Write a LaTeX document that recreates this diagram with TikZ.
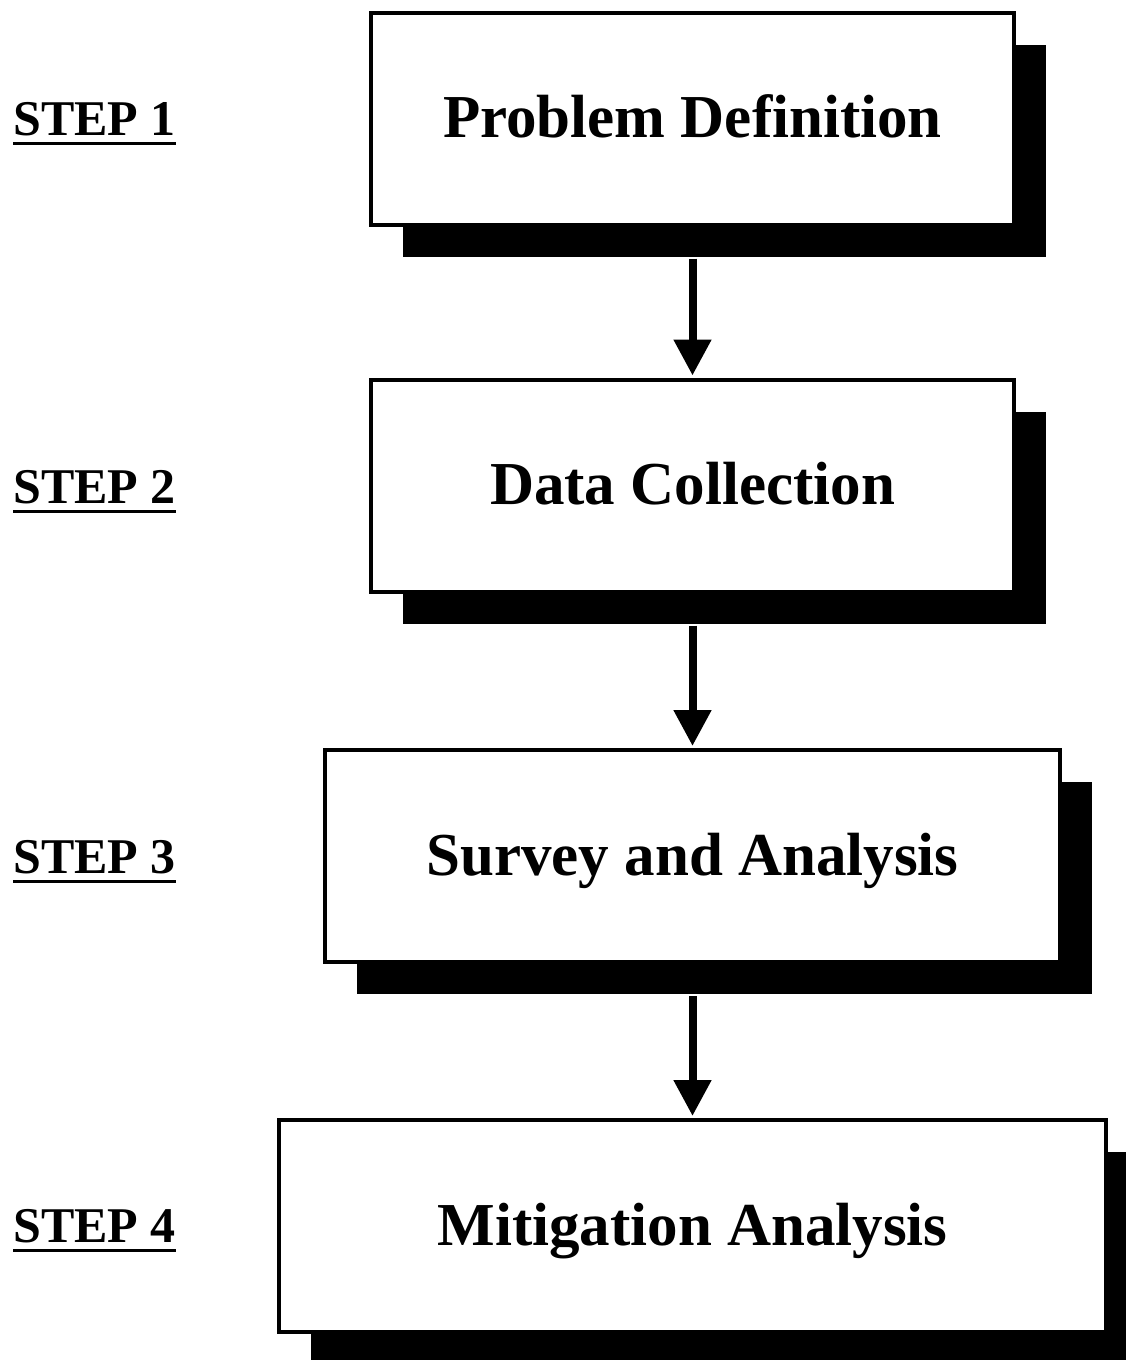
\documentclass[tikz,border=0pt]{standalone}
\usepackage{fontspec}
\setmainfont{Liberation Serif}
\usetikzlibrary{arrows.meta,shadows}
\begin{document}
\begin{tikzpicture}[x=1pt,y=-1pt,
  stepbox/.style={draw=black, line width=4pt, fill=white, inner sep=0pt,
    minimum height=212pt, text height=38pt, text depth=0pt,
    drop shadow={shadow xshift=32pt, shadow yshift=-32pt, fill=black, opacity=1},
    font=\fontsize{61}{70}\selectfont\bfseries},
  steplabel/.style={inner sep=0pt, anchor=base west,
    font=\fontsize{50}{56}\selectfont\bfseries},
  flow/.style={line width=8pt, -{Triangle[width=36pt,length=36pt]}, shorten >=2pt}]
\useasboundingbox (0,0) rectangle (1126,1360);
\clip (0,0) rectangle (1126,1360);

% the four process boxes
\node[stepbox, minimum width=643pt] (b1) at (692.5,118.5) {Problem Definition};
\node[stepbox, minimum width=643pt] (b2) at (692.5,485.5) {Data Collection};
\node[stepbox, minimum width=735pt] (b3) at (692.5,856) {Survey and Analysis};
\node[stepbox, minimum width=827pt] (b4) at (692.5,1226) {Mitigation Analysis};

% arrows from each shadow to the next box
\draw[flow] ([yshift=-32pt]b1.south) -- (b2.north);
\draw[flow] ([yshift=-32pt]b2.south) -- (b3.north);
\draw[flow] ([yshift=-32pt]b3.south) -- (b4.north);

% step labels with underlines
\node[steplabel] (s1) at (13,135) {STEP 1};
\node[steplabel] (s2) at (13,503) {STEP 2};
\node[steplabel] (s3) at (13,873) {STEP 3};
\node[steplabel] (s4) at (13,1242) {STEP 4};
\foreach \s in {s1,s2,s3,s4}
  \draw[line width=3pt] ([yshift=-8pt]\s.base west) -- ([yshift=-8pt]\s.base east);
\end{tikzpicture}
\end{document}
